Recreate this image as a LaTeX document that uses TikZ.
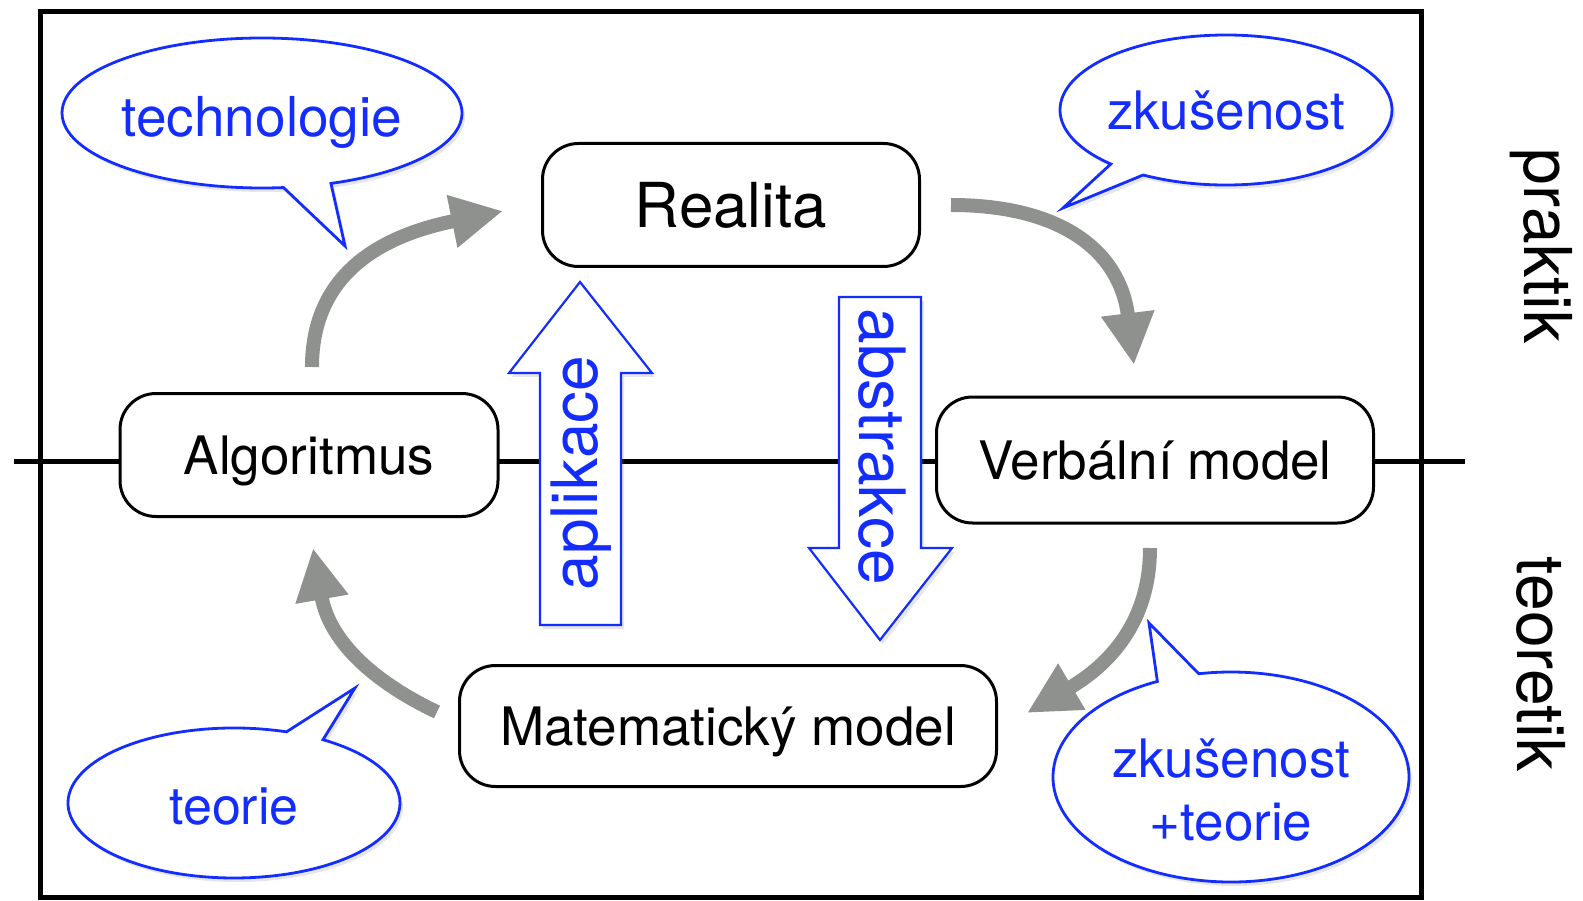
\documentclass[tikz,border=0pt]{standalone}
\usepackage{fontspec}
\setmainfont{TeX Gyre Heros}
\usetikzlibrary{arrows.meta,shapes.callouts,shadows}

\definecolor{bblue}{RGB}{20,45,255}
\definecolor{flowgray}{RGB}{143,145,143}

\tikzset{
  stage/.style={draw,line width=3pt,rounded corners=36pt,fill=white,inner sep=0pt,
    minimum height=123pt,font=\fontsize{53}{60}\selectfont,text height=38pt,text depth=0pt},
  bubble/.style={ellipse callout,draw=bblue,line width=2.8pt,fill=white,inner sep=0pt,
    callout pointer arc=14,drop shadow={opacity=0.2,shadow xshift=3pt,shadow yshift=-4pt}},
  bubtxt/.style={text=bblue,font=\fontsize{53}{63}\selectfont,align=center},
  flow/.style={draw=flowgray,line width=14pt,-{Triangle[length=52pt,width=50pt]}},
  blockarrow/.style={draw=bblue,line width=2.2pt,fill=white,
    drop shadow={opacity=0.2,shadow xshift=3pt,shadow yshift=-4pt}},
  blocktxt/.style={text=bblue,font=\fontsize{64}{70}\selectfont},
  side/.style={font=\fontsize{66}{70}\selectfont,rotate=-90}
}

\begin{document}
\begin{tikzpicture}[x=1pt,y=-1pt]
\useasboundingbox (0,0) rectangle (1583,901);
\draw[line width=5pt] (40,12) rectangle (1421,897);

% osa praktik / teoretik
\coordinate (axL) at (14,461);
\coordinate (axR) at (1465,461);
\draw[line width=5pt] (axL) -- (axR);

\node[side] (praktik) at (1541,246) {praktik};
\node[side] (teoretik) at (1541,664) {teoretik};

% etapy
\node[stage,minimum width=377pt,font=\fontsize{62}{70}\selectfont,text height=45pt] (real) at (731,205) {Realita};
\node[stage,minimum width=378pt] (alg) at (309,455) {Algoritmus};
\node[stage,minimum width=437pt,minimum height=126pt] (verb) at (1155,460) {Verbální model};
\node[stage,minimum width=537pt,minimum height=121pt] (mat) at (728,726) {Matematický model};

% aplikace / abstrakce
\draw[blockarrow] (540,625) -- (621,625) -- (621,373) -- (652,373) -- (580,282)
  -- (509,373) -- (540,373) -- cycle;
\node[blocktxt,rotate=90] (apl) at (581,473) {aplikace};
\draw[blockarrow] (839,297) -- (921,297) -- (921,548) -- (952,548) -- (880,640)
  -- (809,548) -- (839,548) -- cycle;
\node[blocktxt,rotate=-90] (abs) at (882,447) {abstrakce};

% cyklus
\coordinate (c1s) at (312,367);
\coordinate (c1e) at (503,211);
\draw[flow] (c1s) .. controls (312,262) and (400,232) .. (c1e);
\coordinate (c2s) at (951,205);
\coordinate (c2e) at (1134,365);
\draw[flow] (c2s) .. controls (1060,205) and (1120,250) .. (c2e);
\coordinate (c3s) at (1150,548);
\coordinate (c3e) at (1027,713);
\draw[flow] (c3s) .. controls (1150,630) and (1100,670) .. (c3e);
\coordinate (c4s) at (437,712);
\coordinate (c4e) at (313,548);
\draw[flow] (c4s) .. controls (380,685) and (330,645) .. (c4e);

% bubliny
\node[bubble,minimum width=400pt,minimum height=150pt,callout absolute pointer={(345,246)}] (techb) at (262,113) {};
\node[bubtxt,anchor=base,font=\fontsize{55}{63}\selectfont] (tech) at (262,137) {technologie};
\node[bubble,minimum width=332pt,minimum height=150pt,callout absolute pointer={(1063,208)}] (zkub) at (1226,110) {};
\node[bubtxt,anchor=base] (zku) at (1226,130) {zkušenost};
\node[bubble,minimum width=356pt,minimum height=210pt,callout absolute pointer={(1149,623)}] (zktb) at (1231,777) {};
\node[bubtxt] (zkt) at (1231,790) {zkušenost\\+teorie};
\node[bubble,minimum width=332pt,minimum height=150pt,callout absolute pointer={(355,688)}] (teob) at (234,803) {};
\node[bubtxt,anchor=base,font=\fontsize{52}{63}\selectfont] (teo) at (234,824) {teorie};
\end{tikzpicture}
\end{document}
